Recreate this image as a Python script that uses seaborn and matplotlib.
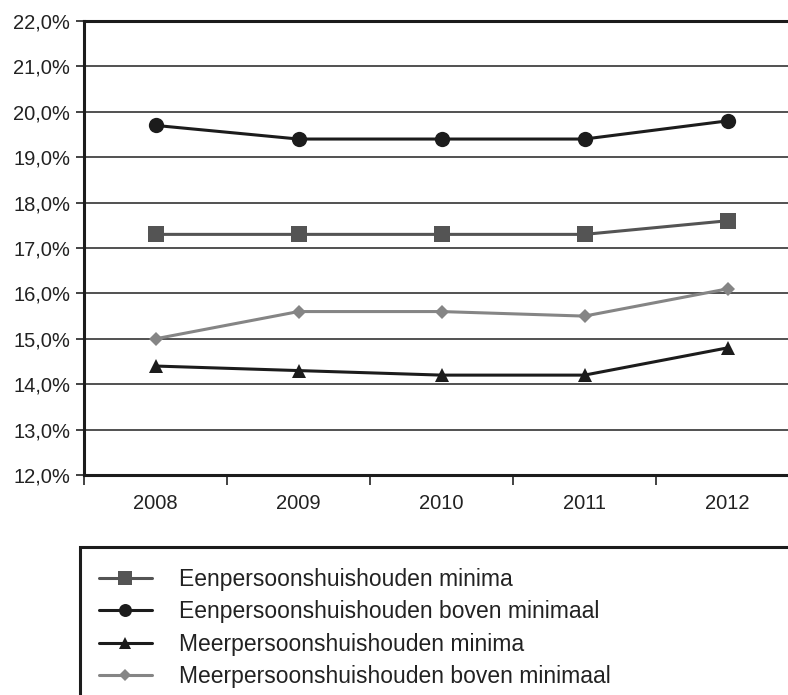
import numpy as np
import pandas as pd
import matplotlib
matplotlib.use("Agg")
import matplotlib.pyplot as plt
from matplotlib.patches import Rectangle
import seaborn as sns

# ---- data ----
JAREN = ["2008", "2009", "2010", "2011", "2012"]
EENP_MINIMA = [17.3, 17.3, 17.3, 17.3, 17.6]
EENP_BOVEN = [19.7, 19.4, 19.4, 19.4, 19.8]
MEERP_MINIMA = [14.4, 14.3, 14.2, 14.2, 14.8]
MEERP_BOVEN = [15.0, 15.6, 15.6, 15.5, 16.1]

REEKSEN = [
    ("Eenpersoonshuishouden minima", EENP_MINIMA, "#545454", "s", 11.5),
    ("Eenpersoonshuishouden boven minimaal", EENP_BOVEN, "#1c1c1c", "o", 11),
    ("Meerpersoonshuishouden minima", MEERP_MINIMA, "#1c1c1c", "^", 10),
    ("Meerpersoonshuishouden boven minimaal", MEERP_BOVEN, "#858585", "D", 7.5),
]

sns.set_theme(style="white")
plt.rcParams["font.family"] = ["Liberation Sans", "DejaVu Sans"]

fig = plt.figure(figsize=(7.88, 6.95), dpi=100)
ax = fig.add_axes([84 / 788, 1 - 475 / 695, 715 / 788, (475 - 21) / 695])

x = np.arange(len(JAREN))
for naam, waarden, kleur, marker, ms in REEKSEN:
    df = pd.DataFrame({"x": x, "y": waarden})
    sns.lineplot(data=df, x="x", y="y", ax=ax, color=kleur, marker=marker,
                 markersize=ms, markeredgewidth=0, linewidth=2.2,
                 label=naam, legend=False, zorder=3)

ax.set_xlim(-0.5, 4.5)
ax.set_ylim(12, 22)
ax.set_yticks(np.arange(12, 22.1, 1))
ax.set_yticklabels([f"{v:.1f}%".replace(".", ",") for v in np.arange(12, 22.1, 1)])
ax.set_xticks(x)
ax.set_xticklabels(JAREN)
ax.set_xticks(np.arange(-0.5, 4.6, 1), minor=True)
ax.tick_params(axis="x", which="major", length=0, pad=14, labelsize=14.5, colors="#222222")
ax.tick_params(axis="x", which="minor", direction="out", length=7.5, width=1.2,
               color="#222222", bottom=True)
ax.tick_params(axis="y", direction="out", length=6, width=1.2, color="#222222",
               left=True, labelsize=14.5, labelcolor="#222222", pad=4)
ax.set_xlabel("")
ax.set_ylabel("")

ax.grid(axis="y", color="#333333", linewidth=1.2)
ax.grid(axis="x", visible=False)
ax.set_axisbelow(True)

for kant in ["left", "bottom", "top"]:
    ax.spines[kant].set_visible(True)
    ax.spines[kant].set_color("#1c1c1c")
    ax.spines[kant].set_linewidth(2.2)
ax.spines["right"].set_visible(False)

# legenda in kader onder de grafiek
handles, labels = ax.get_legend_handles_labels()
fig.legend(handles, labels, loc="upper left", bbox_to_anchor=(99 / 788, 1 - 568 / 695),
           frameon=False, fontsize=16.5, handlelength=2.3, handletextpad=1.2,
           labelspacing=0.41, borderpad=0, borderaxespad=0, labelcolor="#222222",
           markerscale=0.85)
fig.patches.append(Rectangle((80 / 788, -0.1), 1.0, (695 - 547) / 695 + 0.1,
                             transform=fig.transFigure, fill=False,
                             edgecolor="#1c1c1c", linewidth=2.2))

fig.savefig("out.png", dpi=100)
